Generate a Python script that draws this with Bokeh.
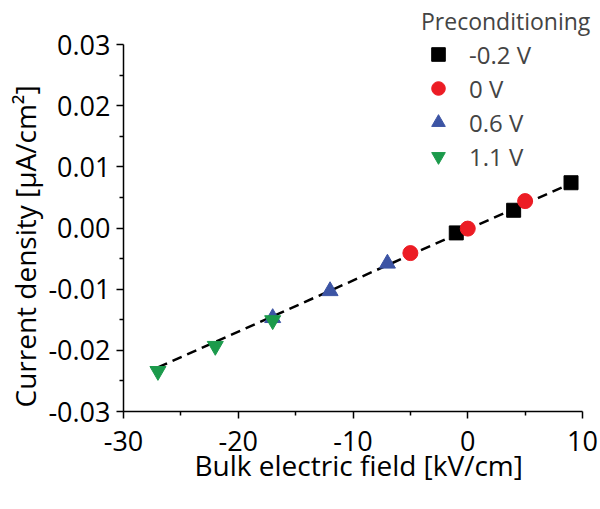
from bokeh.plotting import figure
from bokeh.models import Legend, LegendItem, PrintfTickFormatter, FixedTicker, Title
from bokeh.embed import file_html
from bokeh.resources import INLINE

# Data
sq_x = [-1, 4, 9]
sq_y = [-0.0008, 0.0029, 0.0074]
ci_x = [-5, 0, 5]
ci_y = [-0.0041, -0.0001, 0.0044]
tu_x = [-17, -12, -7]
tu_y = [-0.0147, -0.0103, -0.0058]
td_x = [-27, -22, -17]
td_y = [-0.0234, -0.0193, -0.0151]
fit_x = [-27, 9]
fit_y = [-0.0228, 0.0073]

labels = ["-0.2 V", "0 V", "0.6 V", "1.1 V"]
x_ticks = [-30, -20, -10, 0, 10]
x_minor = [-25, -15, -5, 5]
y_ticks = [-0.03, -0.02, -0.01, 0.0, 0.01, 0.02, 0.03]
y_minor = [-0.025, -0.015, -0.005, 0.005, 0.015, 0.025]
x_lim = (-30, 10)
y_lim = (-0.03, 0.03)
x_title = "Bulk electric field [kV/cm]"
y_title = "Current density [\u03bcA/cm\u00b2]"

FONT = "Open Sans"

# layout in pixels: axes span 459 x 367 px, frame extended up/right for the legend
W, H = 598, 505
BL, BR, BT, BB = 123, 4, 3, 94
AX_W, AX_H = 459, 367
frame_w = W - BL - BR
frame_h = H - BT - BB
x_end = x_lim[1] + (frame_w - AX_W) * (x_lim[1] - x_lim[0]) / AX_W
y_end = y_lim[1] + (frame_h - AX_H) * (y_lim[1] - y_lim[0]) / AX_H

p = figure(width=W, height=H, x_range=(x_lim[0], x_end), y_range=(y_lim[0], y_end),
           output_backend="svg", toolbar_location=None,
           min_border_left=BL, min_border_right=BR, min_border_top=BT, min_border_bottom=BB)
p.outline_line_color = None
p.grid.visible = False
p.background_fill_color = "white"
p.border_fill_color = "white"

p.line(fit_x, fit_y, line_color="black", line_width=2.5, line_dash="10 6")

r_sq = p.scatter(sq_x, sq_y, marker="square", size=14, fill_color="black", line_color="black")
r_ci = p.scatter(ci_x, ci_y, marker="circle", size=15, fill_color="#ec1c24", line_color="#ec1c24")
r_tu = p.scatter(tu_x, tu_y, marker="triangle", size=16, fill_color="#3c54a4", line_color="#3c54a4")
r_td = p.scatter(td_x, td_y, marker="inverted_triangle", size=16, fill_color="#1b9a4b", line_color="#1b9a4b")

for ax in (p.xaxis[0], p.yaxis[0]):
    ax.axis_line_width = 1.5
    ax.axis_line_color = "black"
    ax.major_tick_line_color = "black"
    ax.major_tick_line_width = 1.5
    ax.minor_tick_line_color = "black"
    ax.minor_tick_line_width = 1.5
    ax.major_tick_out = 7
    ax.major_tick_in = 0
    ax.minor_tick_out = 4
    ax.minor_tick_in = 0
    ax.major_label_text_font = FONT
    ax.major_label_text_font_size = "27px"
    ax.major_label_text_color = "black"

p.xaxis.bounds = x_lim
p.yaxis.bounds = y_lim
p.xaxis.ticker = FixedTicker(ticks=x_ticks, minor_ticks=x_minor)
p.yaxis.ticker = FixedTicker(ticks=y_ticks, minor_ticks=y_minor)
p.xaxis.formatter = PrintfTickFormatter(format="%d")
p.yaxis.formatter = PrintfTickFormatter(format="%.2f")
p.xaxis.major_label_standoff = 12
p.yaxis.major_label_standoff = 6

# axis titles placed along the axis extent (frame is larger than the axes)
p.add_layout(Title(text=x_title, align="left", offset=71, standoff=-16, vertical_align="top",
                   text_font=FONT, text_font_size="28px", text_font_style="normal",
                   text_color="black"), "below")
p.add_layout(Title(text=y_title, align="left", offset=4, standoff=4,
                   text_font=FONT, text_font_size="28px", text_font_style="normal",
                   text_color="black"), "left")

legend = Legend(items=[LegendItem(label=labels[0], renderers=[r_sq]),
                       LegendItem(label=labels[1], renderers=[r_ci]),
                       LegendItem(label=labels[2], renderers=[r_tu]),
                       LegendItem(label=labels[3], renderers=[r_td])],
                location=(298, 238), title="Preconditioning",
                title_text_font=FONT, title_text_font_size="23px", title_text_font_style="normal",
                title_standoff=0,
                label_text_font=FONT, label_text_font_size="24px",
                glyph_width=34, glyph_height=34, label_height=20, spacing=0,
                label_standoff=14, padding=0, margin=0,
                border_line_color=None, background_fill_alpha=0)
p.add_layout(legend, "center")

open("out.html", "w").write(file_html(p, INLINE))
